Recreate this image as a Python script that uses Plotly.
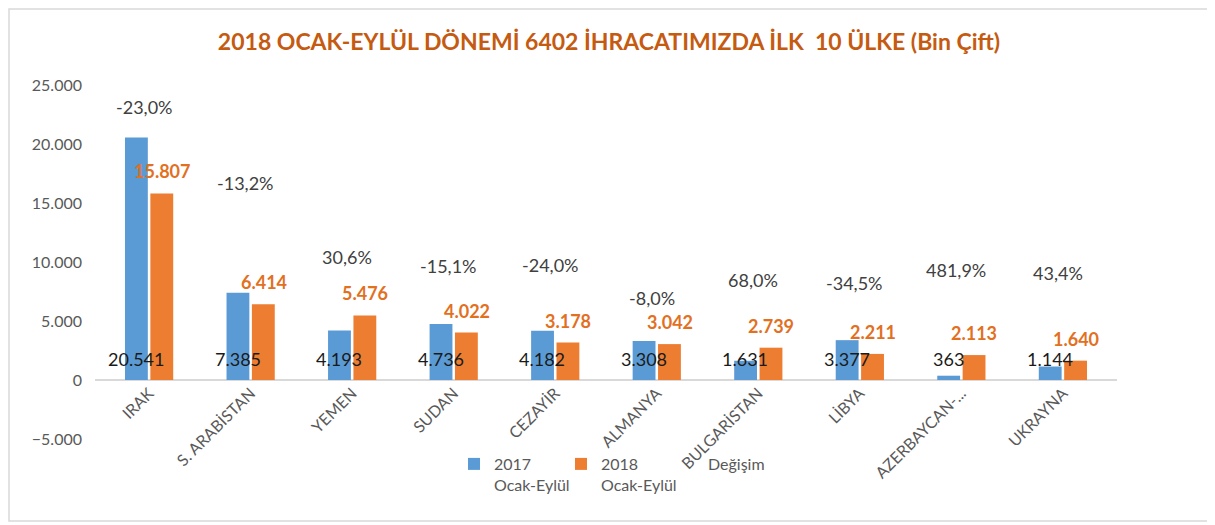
import plotly.graph_objects as go

# ---------------- data ----------------
countries = ["IRAK", "S. ARABİSTAN", "YEMEN", "SUDAN", "CEZAYİR", "ALMANYA",
             "BULGARİSTAN", "LİBYA", "AZERBAYCAN-...", "UKRAYNA"]
v2017 = [20541, 7385, 4193, 4736, 4182, 3308, 1631, 3377, 363, 1144]
v2018 = [15807, 6414, 5476, 4022, 3178, 3042, 2739, 2211, 2113, 1640]
change_pct = [-23.0, -13.2, 30.6, -15.1, -24.0, -8.0, 68.0, -34.5, 481.9, 43.4]
y_tickvals = [-5000, 0, 5000, 10000, 15000, 20000, 25000]

# --------------- styling / placement ---------------
FONT = "Lato, Open Sans, sans-serif"
BLUE = "#5B9BD5"
ORANGE = "#ED7D31"
GRAY = "#595959"
# vertical placement of the (manually positioned) change labels, in axis units
pct_label_y = [23160, 16670, 10450, 9660, 9750, 6920, 8470, 8190, 9320, 9040]

# layout geometry (figure pixels; the page adds an 8px body margin)
OFF = 8
W, H = 1215 - OFF, 525 - OFF
L, R, T, B = 95 - OFF, W - (1117 - OFF), 85 - OFF, 4
plot_w = W - L - R
plot_h = H - T - B
Y_BOTTOM_PX = 439 - OFF   # pixel of y = -5000
ZERO_PX = 380 - OFF       # pixel of y = 0
LEG_TOP_PX = 439


def py(px):
    return (H - B - px) / plot_h


def px_x(px):
    return (px - L) / plot_w


def tr_num(v):
    return f"{v:,}".replace(",", ".")


def tr_pct(v):
    return f"{v:.1f}".replace(".", ",") + "%"


fig = go.Figure()
fig.add_trace(go.Bar(x=countries, y=v2017, name="2017<br>Ocak-Eylül",
                     marker=dict(color=BLUE, line=dict(width=0)), hoverinfo="skip"))
fig.add_trace(go.Bar(x=countries, y=v2018, name="2018<br>Ocak-Eylül",
                     marker=dict(color=ORANGE, line=dict(width=0)), hoverinfo="skip"))
fig.add_trace(go.Scatter(x=countries, y=pct_label_y, name="Değişim", mode="markers",
                         marker=dict(color="rgba(0,0,0,0)", size=1), hoverinfo="skip"))

annotations = []
for c, a, b, p, ply in zip(countries, v2017, v2018, change_pct, pct_label_y):
    annotations.append(dict(x=c, y=0, xref="x", yref="y", text=tr_num(a), showarrow=False,
                            xshift=-13, yshift=21, yanchor="middle",
                            font=dict(family=FONT, size=18, color="#1a1a1a")))
    annotations.append(dict(x=c, y=b, xref="x", yref="y", text="<b>" + tr_num(b) + "</b>",
                            showarrow=False, xshift=13, yshift=22, yanchor="middle",
                            font=dict(family=FONT, size=18, color="#E2701F")))
    annotations.append(dict(x=c, y=ply, xref="x", yref="y", text=tr_pct(p), showarrow=False,
                            xshift=-5, yanchor="middle",
                            font=dict(family=FONT, size=18, color="#404040")))

fig.update_layout(
    width=W, height=H,
    margin=dict(l=L, r=R, t=T, b=B),
    paper_bgcolor="white", plot_bgcolor="white",
    separators=",.",
    barmode="group", bargap=0.5, bargroupgap=0.1,
    title=dict(text="<b>2018 OCAK-EYLÜL DÖNEMİ 6402 İHRACATIMIZDA İLK  10 ÜLKE (Bin Çift)</b>",
               x=px_x(609 - OFF), xref="paper", xanchor="center", y=1 - (42 - OFF) / H,
               yref="container", yanchor="middle",
               font=dict(family=FONT, size=23, color="#C55A11")),
    font=dict(family=FONT, color=GRAY),
    showlegend=True,
    legend=dict(orientation="h", x=px_x(446), xanchor="left", y=py(LEG_TOP_PX), yanchor="top",
                bgcolor="rgba(0,0,0,0)", font=dict(family=FONT, size=16, color=GRAY),
                valign="top", entrywidth=62, entrywidthmode="pixels", traceorder="normal"),
    annotations=annotations,
    shapes=[dict(type="rect", xref="paper", yref="paper",
                 x0=px_x(1), x1=px_x(1212 - OFF),
                 y0=py(521 - OFF), y1=py(1), line=dict(color="#D9D9D9", width=1.5),
                 layer="below")],
)
fig.update_xaxes(tickangle=-45, showgrid=False, showline=False, ticks="", automargin=False,
                 anchor="free", position=py(ZERO_PX),
                 tickfont=dict(family=FONT, size=16, color=GRAY))
fig.update_yaxes(range=[-5000, 25000], domain=[py(Y_BOTTOM_PX), 1], tickvals=y_tickvals,
                 tickformat=",d", automargin=False,
                 showgrid=False, showline=False, zeroline=True, zerolinecolor="#D9D9D9",
                 zerolinewidth=1.5, ticklabelstandoff=12,
                 tickfont=dict(family=FONT, size=16, color=GRAY))

fig.write_html("out.html")
